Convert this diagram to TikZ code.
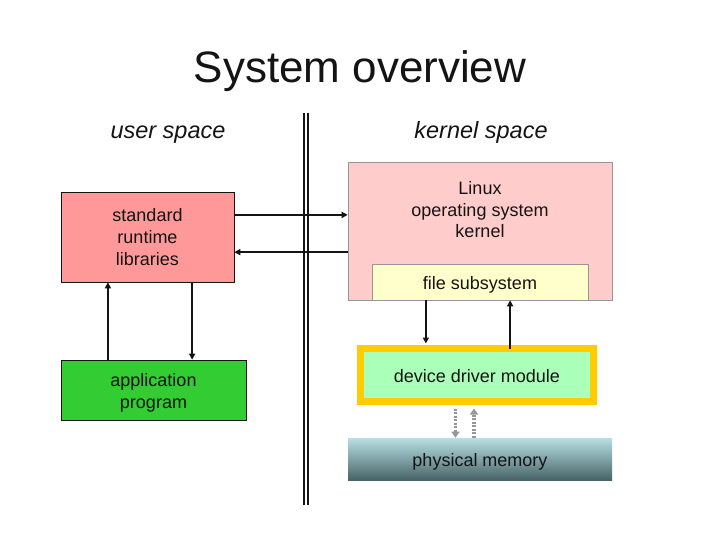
\documentclass[tikz,border=0pt]{standalone}
\usepackage{fontspec}
\setmainfont{Liberation Sans}
\usetikzlibrary{arrows.meta,positioning,calc}
\definecolor{ink}{RGB}{20,20,20}
\definecolor{rim}{RGB}{150,150,150}
\definecolor{libfill}{RGB}{255,153,153}
\definecolor{appfill}{RGB}{51,204,51}
\definecolor{kernfill}{RGB}{255,204,204}
\definecolor{filefill}{RGB}{255,255,204}
\definecolor{drvfill}{RGB}{170,255,185}
\definecolor{drvrim}{RGB}{255,204,0}
\definecolor{memtop}{RGB}{184,224,228}
\definecolor{membot}{RGB}{72,100,104}
\definecolor{dots}{RGB}{150,150,150}
\tikzset{
  every picture/.style={color=ink, line width=0.6pt},
  body/.style={font=\fontsize{18}{21.8}\selectfont, align=center},
  box/.style={body, draw=ink, inner sep=0pt},
  oneline/.style={text height=17pt, text depth=2pt},
  userbox/.style={box, minimum height=90pt},
  kernbox/.style={box, draw=rim, fill=kernfill, minimum width=264pt, minimum height=138pt},
  filebox/.style={box, oneline, draw=rim, fill=filefill, minimum width=216pt, minimum height=36pt},
  drvbox/.style={box, oneline, draw=drvrim, line width=7pt, fill=drvfill, minimum width=233pt, minimum height=53pt},
  membox/.style={box, oneline, draw=none, top color=memtop, bottom color=membot, minimum width=264pt, minimum height=42pt},
  space/.style={font=\fontsize{23.5}{28}\selectfont\itshape},
  flow/.style={-{Triangle[length=6pt,width=6pt]}, line width=2pt, color=ink},
  memflow/.style={-{Triangle[length=6pt,width=8pt]}, line width=3.5pt, color=dots, dash pattern=on 2pt off 1.5pt},
}
\begin{document}
\begin{tikzpicture}[x=1pt, y=-1pt]
  \useasboundingbox (0,0) rectangle (720,540);
  \node[font=\fontsize{44}{50}\selectfont] (title) at (360,71) {System overview};
  \node[space] (user) at (168,135) {user space};
  \node[space] (kspace) at (481,132) {kernel space};
  % the wall between the two spaces
  \draw[line width=2pt, double=white, double distance=2pt] (306,113) -- (306,505);
  % user side
  \node[userbox, fill=libfill, minimum width=173pt] (lib) at (147.5,237) {standard\\ runtime\\ libraries};
  \node[box, fill=appfill, minimum width=185pt, minimum height=60pt] (app) at (153.5,390) {};
  \node[body] (apptext) at ([yshift=-3pt]app.center) {application\\ program};
  % kernel side
  \node[kernbox] (kern) at (480,231) {};
  \node[body, below=16pt of kern.north] (ktext) {Linux\\ operating system\\ kernel};
  \node[filebox, above=0pt of kern.south] (file) {file subsystem};
  \node[drvbox] (drv) at (477,375) {device driver module};
  \node[membox] (mem) at (480,459) {physical memory};
  % calls across the wall
  \coordinate (callout) at ($(lib.north east)!0.256!(lib.south east)$);
  \coordinate (callback) at ($(lib.north east)!0.667!(lib.south east)$);
  \draw[flow] (callout) -- (callout -| kern.west);
  \draw[flow] (callback -| kern.west) -- (callback);
  \coordinate (appup) at ($(lib.south west)!0.272!(lib.south east)$);
  \coordinate (appdown) at ($(lib.south west)!0.757!(lib.south east)$);
  \draw[flow] (appup |- app.north) -- (appup);
  \draw[flow] (appdown) -- (appdown |- app.north);
  \coordinate (fdown) at ($(file.south west)!0.25!(file.south east)$);
  \coordinate (fup) at ($(file.south west)!0.639!(file.south east)$);
  \draw[flow] (fdown) -- ([yshift=1.5pt]fdown |- drv.north);
  \draw[flow] ([yshift=-3.5pt]fup |- drv.north) -- (fup);
  % memory traffic
  \coordinate (mdown) at (455.5,0);
  \coordinate (mup) at (474,0);
  \draw[memflow] ([yshift=-3.5pt]mdown |- drv.south) -- (mdown |- mem.north);
  \draw[memflow] (mup |- mem.north) -- ([yshift=-3.5pt]mup |- drv.south);
\end{tikzpicture}
\end{document}
